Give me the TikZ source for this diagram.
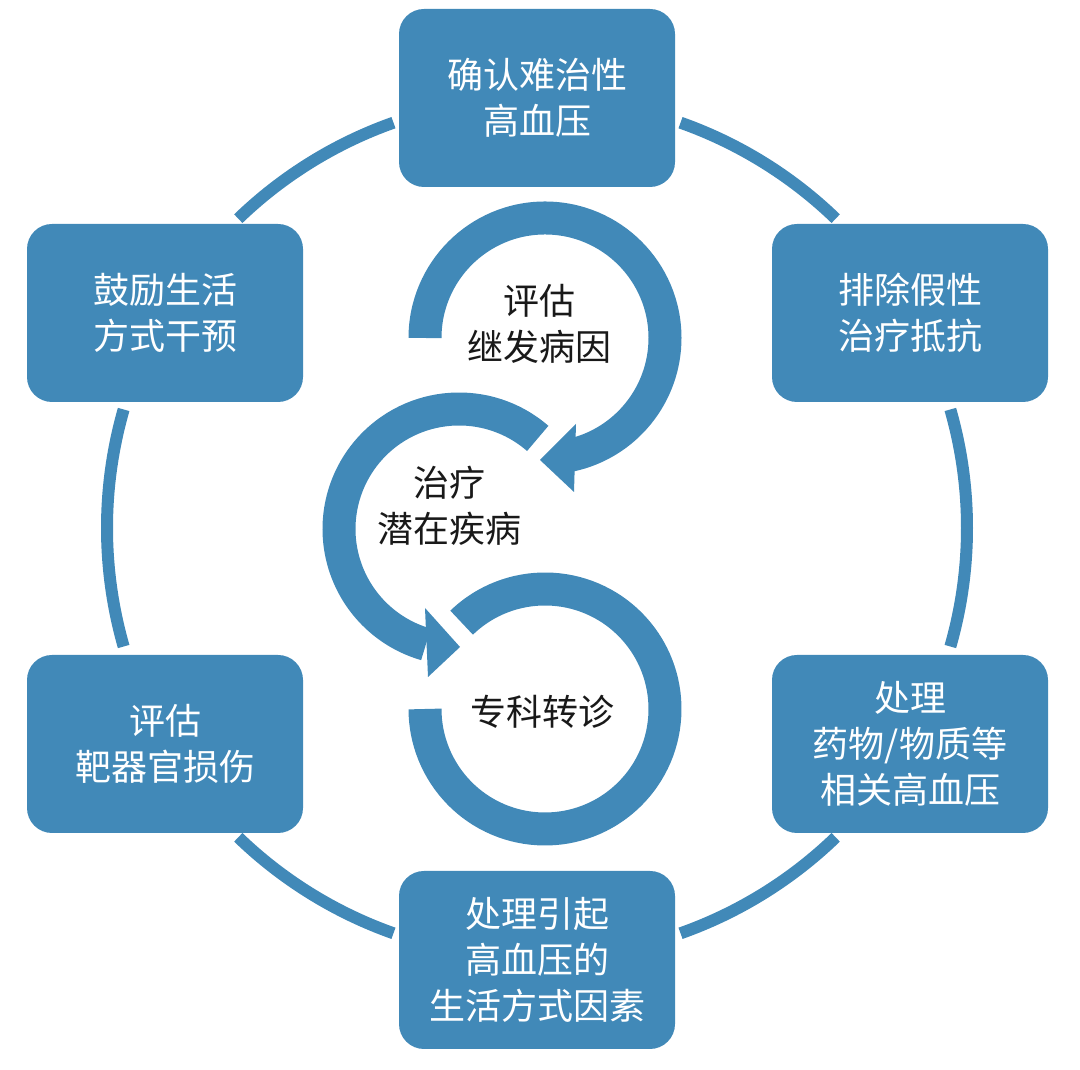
\documentclass[tikz,border=0pt]{standalone}
\usepackage{fontspec}
\setmainfont{Noto Sans CJK SC}
\definecolor{cycleblue}{RGB}{65,137,184}

\begin{document}
\begin{tikzpicture}[
			x=1pt, y=1pt,
			% Define styles for nodes
			blockbox/.style={rectangle, fill=cycleblue, rounded corners=25pt, minimum width=276pt, minimum height=178pt, align=center, text=white, font=\fontsize{36}{46}\selectfont},
			centertext/.style={align=center, text=black!90, font=\fontsize{36}{46}\selectfont},
			cyclearc/.style={draw=cycleblue, line width=12pt},
			loopring/.style={draw=cycleblue, line width=33pt}
		]
		\useasboundingbox (0,0) rectangle (1080,1070);

		% Centres of the big cycle and of the three inner loops
		\coordinate (hub) at (537,542);
		\coordinate (c1) at (545,732);
		\coordinate (c2) at (459,541);
		\coordinate (c3) at (545,361);

		% Outer cycle, cut between the boxes
		\foreach \a/\b in {-16/16, 46/70.5, 109.5/134, 164/196, 226/250.5, 289.5/314}
		\draw[cyclearc] (hub) ++(\a:430) arc[start angle=\a, end angle=\b, radius=430];

		% Inner loops
		\draw[loopring] (c1) ++(180:120) arc[start angle=180, end angle=-78, radius=120];
		\fill[cycleblue, shift={(c1)}] (31,-86) -- (29,-154) -- (-5,-122) -- cycle;
		\draw[loopring] (c2) ++(49:120) arc[start angle=49, end angle=254, radius=120];
		\fill[cycleblue, shift={(c2)}] (-34,-79) -- (-31,-148) -- (1,-118) -- cycle;
		\draw[loopring] (c3) ++(134:120) arc[start angle=134, end angle=-180, radius=120];

		\node[centertext] (secondary) at (539,746) {评估\\继发病因};
		\node[centertext] (underlying) at (449,564) {治疗\\潜在疾病};
		\node[centertext] (referral) at (542,358) {专科转诊};

		% Boxes round the cycle
		\node[blockbox] (confirm) at (537,972) {确认难治性\\高血压};
		\node[blockbox] (exclude) at (910,757) {排除假性\\治疗抵抗};
		\node[blockbox] (drugs) at (910,326) {处理\\药物/物质等\\相关高血压};
		\node[blockbox] (lifestyle) at (537,110) {处理引起\\高血压的\\生活方式因素};
		\node[blockbox] (organ) at (165,326) {评估\\靶器官损伤};
		\node[blockbox] (encourage) at (165,757) {鼓励生活\\方式干预};
	\end{tikzpicture}
\end{document}
